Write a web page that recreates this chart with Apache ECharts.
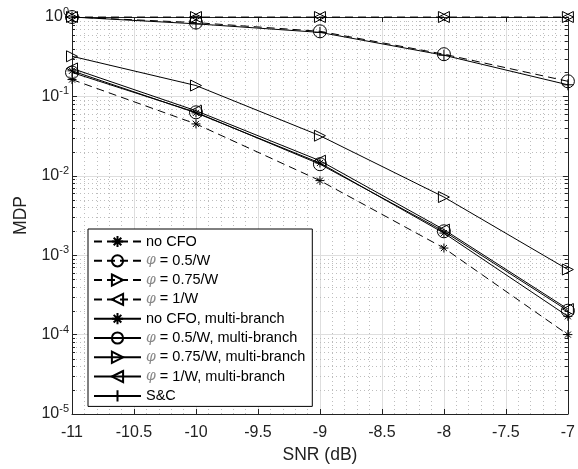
<!DOCTYPE html>
<html><head><meta charset="utf-8">
<script src="https://cdn.jsdelivr.net/npm/echarts@6/dist/echarts.min.js"></script>
<style>html,body{margin:0;padding:0;background:#fff}#c{width:578px;height:469px}</style>
</head><body><div id="c"></div>
<script>
const snr = [-11, -10, -9, -8, -7];
const noCFO        = [0.163, 0.045, 0.0087, 0.00123, 0.0001];
const phi05        = [1.0, 0.85, 0.66, 0.34, 0.155];
const phi075       = [1, 1, 1, 1, 1];
const phi1         = [1, 1, 1, 1, 1];
const noCFO_mb     = [0.21, 0.062, 0.0145, 0.0019, 0.00017];
const phi05_mb     = [0.2, 0.063, 0.014, 0.002, 0.0002];
const phi075_mb    = [0.32, 0.137, 0.032, 0.0054, 0.00066];
const phi1_mb      = [0.225, 0.066, 0.0155, 0.0021, 0.00021];
const sc           = [1.0, 0.82, 0.64, 0.33, 0.14];
const xTicks = [-11, -10.5, -10, -9.5, -9, -8.5, -8, -7.5, -7];
const yDecades = [-5, -4, -3, -2, -1];
const yMinorMult = [2, 3, 4, 5, 6, 7, 8, 9];
const yMinor = [];
yDecades.forEach(e => yMinorMult.forEach(k => yMinor.push(k * Math.pow(10, e))));

const STAR = 'path://M5,0L5,10M0,5L10,5M1.6,1.6L8.4,8.4M1.6,8.4L8.4,1.6';
const TRI_R = 'path://M0,0L10,5L0,10Z';
const TRI_L = 'path://M10,0L0,5L10,10Z';
const PLUS = 'path://M5,0L5,10M0,5L10,5';
const CIRC = 'circle';

function mk(name, vals, symbol, size, dashed) {
  return {
    name, type: 'line',
    data: snr.map((x, i) => [x, vals[i]]),
    symbol, symbolSize: size, showSymbol: true,
    lineStyle: { color: '#000', width: 1, type: dashed ? [8, 5] : 'solid' },
    itemStyle: { color: 'rgba(0,0,0,0)', borderColor: '#000', borderWidth: 1 },
    emphasis: { disabled: true },
    animation: false, z: 3
  };
}
const series = [
  mk('no CFO', noCFO, STAR, 9, true),
  mk('φ = 0.5/W', phi05, CIRC, 13, true),
  mk('φ = 0.75/W', phi075, TRI_R, 11, true),
  mk('φ = 1/W', phi1, TRI_L, 11, true),
  mk('no CFO, multi-branch', noCFO_mb, STAR, 9, false),
  mk('φ = 0.5/W, multi-branch', phi05_mb, CIRC, 13, false),
  mk('φ = 0.75/W, multi-branch', phi075_mb, TRI_R, 11, false),
  mk('φ = 1/W, multi-branch', phi1_mb, TRI_L, 11, false),
  mk('S&C', sc, PLUS, 11, false)
];
const legendNames = series.map(s => s.name);

series.unshift({
  type: 'custom', silent: true, z: 1,
  data: yMinor.map(v => [xTicks[0], v]),
  encode: { x: 0, y: 1 },
  renderItem: (params, api) => {
    const v = api.value(1);
    const p0 = api.coord([xTicks[0], v]);
    const p1 = api.coord([xTicks[xTicks.length - 1], v]);
    const y = Math.round(p0[1]) + 0.5;
    return { type: 'group', children: [
      { type: 'line', shape: { x1: p0[0], y1: y, x2: p1[0], y2: y },
        style: { stroke: '#bdbdbd', lineWidth: 1, lineDash: [1, 3] } },
      { type: 'line', shape: { x1: p0[0], y1: y, x2: p0[0] + 3, y2: y },
        style: { stroke: '#222', lineWidth: 1 } },
      { type: 'line', shape: { x1: p1[0] - 3, y1: y, x2: p1[0], y2: y },
        style: { stroke: '#222', lineWidth: 1 } }
    ] };
  }
});

const chart = echarts.init(document.getElementById('c'), null, { renderer: 'canvas' });
const font = 'Liberation Sans, Arial, sans-serif';
chart.setOption({
  backgroundColor: '#fff',
  animation: false,
  grid: { left: 72, right: 10, top: 17, bottom: 52 },
  legend: {
    orient: 'vertical', left: 88, top: 229,
    backgroundColor: '#fff', borderColor: '#000', borderWidth: 1,
    padding: [5, 7, 3, 5], itemWidth: 47, itemHeight: 14, itemGap: 4.3,
    textStyle: { fontFamily: font, fontSize: 14.5, lineHeight: 14, color: '#000',
      rich: { i: { fontFamily: 'DejaVu Serif', fontStyle: 'italic', fontSize: 14, lineHeight: 14, color: '#888' } } },
    formatter: n => n.replace('φ', '{i|φ}'),
    selectedMode: false,
    data: legendNames
  },
  xAxis: [{
    type: 'value', min: -11, max: -7, interval: 0.5,
    name: 'SNR (dB)', nameLocation: 'middle', nameGap: 32,
    nameTextStyle: { fontFamily: font, fontSize: 17.5, color: '#222' },
    axisLine: { show: true, lineStyle: { color: '#222' } },
    axisTick: { inside: true, length: 5, lineStyle: { color: '#222' } },
    axisLabel: { fontFamily: font, fontSize: 16, color: '#222', margin: 11 },
    splitLine: { show: true, lineStyle: { color: '#dedede' } },
    minorTick: { show: false, splitNumber: 5 },
    minorSplitLine: { show: true, lineStyle: { color: '#bdbdbd', type: [1, 3] } }
  }, {
    type: 'value', min: -11, max: -7, interval: 0.5, position: 'top',
    axisLine: { show: true, lineStyle: { color: '#222' } },
    axisTick: { inside: true, length: 5, lineStyle: { color: '#222' } },
    axisLabel: { show: false }, splitLine: { show: false }
  }],
  yAxis: [{
    type: 'log', logBase: 10, min: 1e-5, max: 1,
    name: 'MDP', nameLocation: 'middle', nameGap: 41,
    nameTextStyle: { fontFamily: font, fontSize: 17.5, color: '#222' },
    axisLine: { show: true, lineStyle: { color: '#222' } },
    axisTick: { inside: true, length: 5, lineStyle: { color: '#222' } },
    axisLabel: {
      fontFamily: font, fontSize: 16, color: '#222', margin: 3,
      formatter: v => '10{s|' + Math.round(Math.log10(v)) + '}',
      rich: { s: { fontFamily: font, fontSize: 11, color: '#222', padding: [0, 0, 10, 0] } }
    },
    splitLine: { show: true, lineStyle: { color: '#dedede' } }
  }, {
    type: 'log', logBase: 10, min: 1e-5, max: 1, position: 'right',
    axisLine: { show: true, lineStyle: { color: '#222' } },
    axisTick: { inside: true, length: 5, lineStyle: { color: '#222' } },
    axisLabel: { show: false }, splitLine: { show: false }
  }],
  series
});
</script></body></html>
